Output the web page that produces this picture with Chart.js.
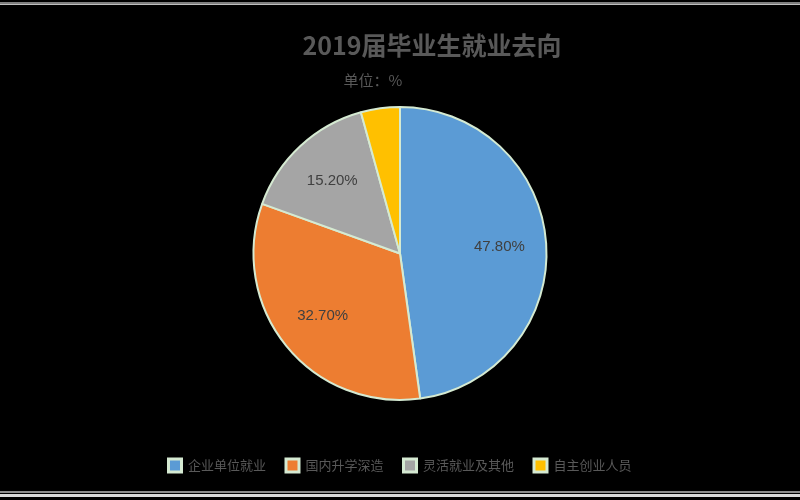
<!DOCTYPE html>
<html>
<head>
<meta charset="utf-8">
<script src="https://cdn.jsdelivr.net/npm/chart.js@4/dist/chart.umd.min.js"></script>
<style>
html,body{margin:0;padding:0;background:#000;}
#wrap{width:800px;height:500px;position:relative;}
</style>
</head>
<body>
<div id="wrap"><canvas id="c" width="800" height="500"></canvas></div>
<script>
const titleText = '2019届毕业生就业去向';
const subtitleText = '单位：%';
const categories = ['企业单位就业', '国内升学深造', '灵活就业及其他', '自主创业人员'];
const values = [47.8, 32.7, 15.2, 4.3];
const colors = ['#5b9bd5', '#ed7d31', '#a5a5a5', '#ffc000'];

const bgPlugin = {
  id: 'bg',
  beforeDraw(chart) {
    const ctx = chart.ctx;
    ctx.save();
    ctx.fillStyle = '#000';
    ctx.fillRect(0, 0, chart.width, chart.height);
    ctx.fillStyle = '#7f7f7f';
    ctx.fillRect(0, 2, chart.width, 2);
    ctx.fillStyle = '#bfbfbf';
    ctx.fillRect(0, 4, chart.width, 1);
    ctx.fillStyle = '#8c8c8c';
    ctx.fillRect(0, 491, chart.width, 2);
    ctx.fillStyle = '#d9d9d9';
    ctx.fillRect(0, 494, chart.width, 3);
    ctx.restore();
  },
  afterDraw(chart) {
    const ctx = chart.ctx;
    ctx.save();
    ctx.fillStyle = '#595959';
    ctx.textAlign = 'center';
    ctx.textBaseline = 'middle';
    ctx.font = 'bold 25px "Noto Sans CJK SC"';
    ctx.fillText(titleText, 432, 45);
    ctx.font = '15px "Noto Sans CJK SC"';
    ctx.fillText(subtitleText, 373, 80);
    const meta = chart.getDatasetMeta(0);
    ctx.fillStyle = '#404040';
    ctx.font = '15px "Liberation Sans", Arial, sans-serif';
    meta.data.forEach((arc, i) => {
      const v = values[i];
      if (v < 5) return;
      const p = arc.getProps(['x','y','startAngle','endAngle','outerRadius']);
      const mid = (p.startAngle + p.endAngle) / 2;
      const r = p.outerRadius * 0.68;
      ctx.fillText(v.toFixed(2) + '%', p.x + Math.cos(mid) * r, p.y + Math.sin(mid) * r);
    });
    ctx.restore();
  }
};

new Chart(document.getElementById('c'), {
  type: 'pie',
  data: {
    labels: categories,
    datasets: [{
      data: values,
      backgroundColor: colors,
      borderColor: '#d5ead2',
      borderWidth: 2
    }]
  },
  options: {
    responsive: false,
    animation: false,
    devicePixelRatio: 1,
    layout: { padding: { top: 106, bottom: 18, left: 0, right: 0 } },
    plugins: {
      tooltip: { enabled: false },
      title: { display: false },
      legend: {
        position: 'bottom',
        title: { display: true, text: ' ', font: { size: 10 }, padding: { top: 0, bottom: 26 } },
        labels: {
          color: '#595959',
          font: { size: 13, family: '"Noto Sans CJK SC"' },
          boxWidth: 13,
          boxHeight: 13,
          padding: 20,
          generateLabels(chart) {
            return categories.map((c, i) => ({
              text: c,
              fillStyle: colors[i],
              strokeStyle: '#d5ead2',
              fontColor: '#595959',
              lineWidth: 3,
              index: i,
              hidden: false
            }));
          }
        }
      }
    }
  },
  plugins: [bgPlugin]
});
</script>
</body>
</html>
